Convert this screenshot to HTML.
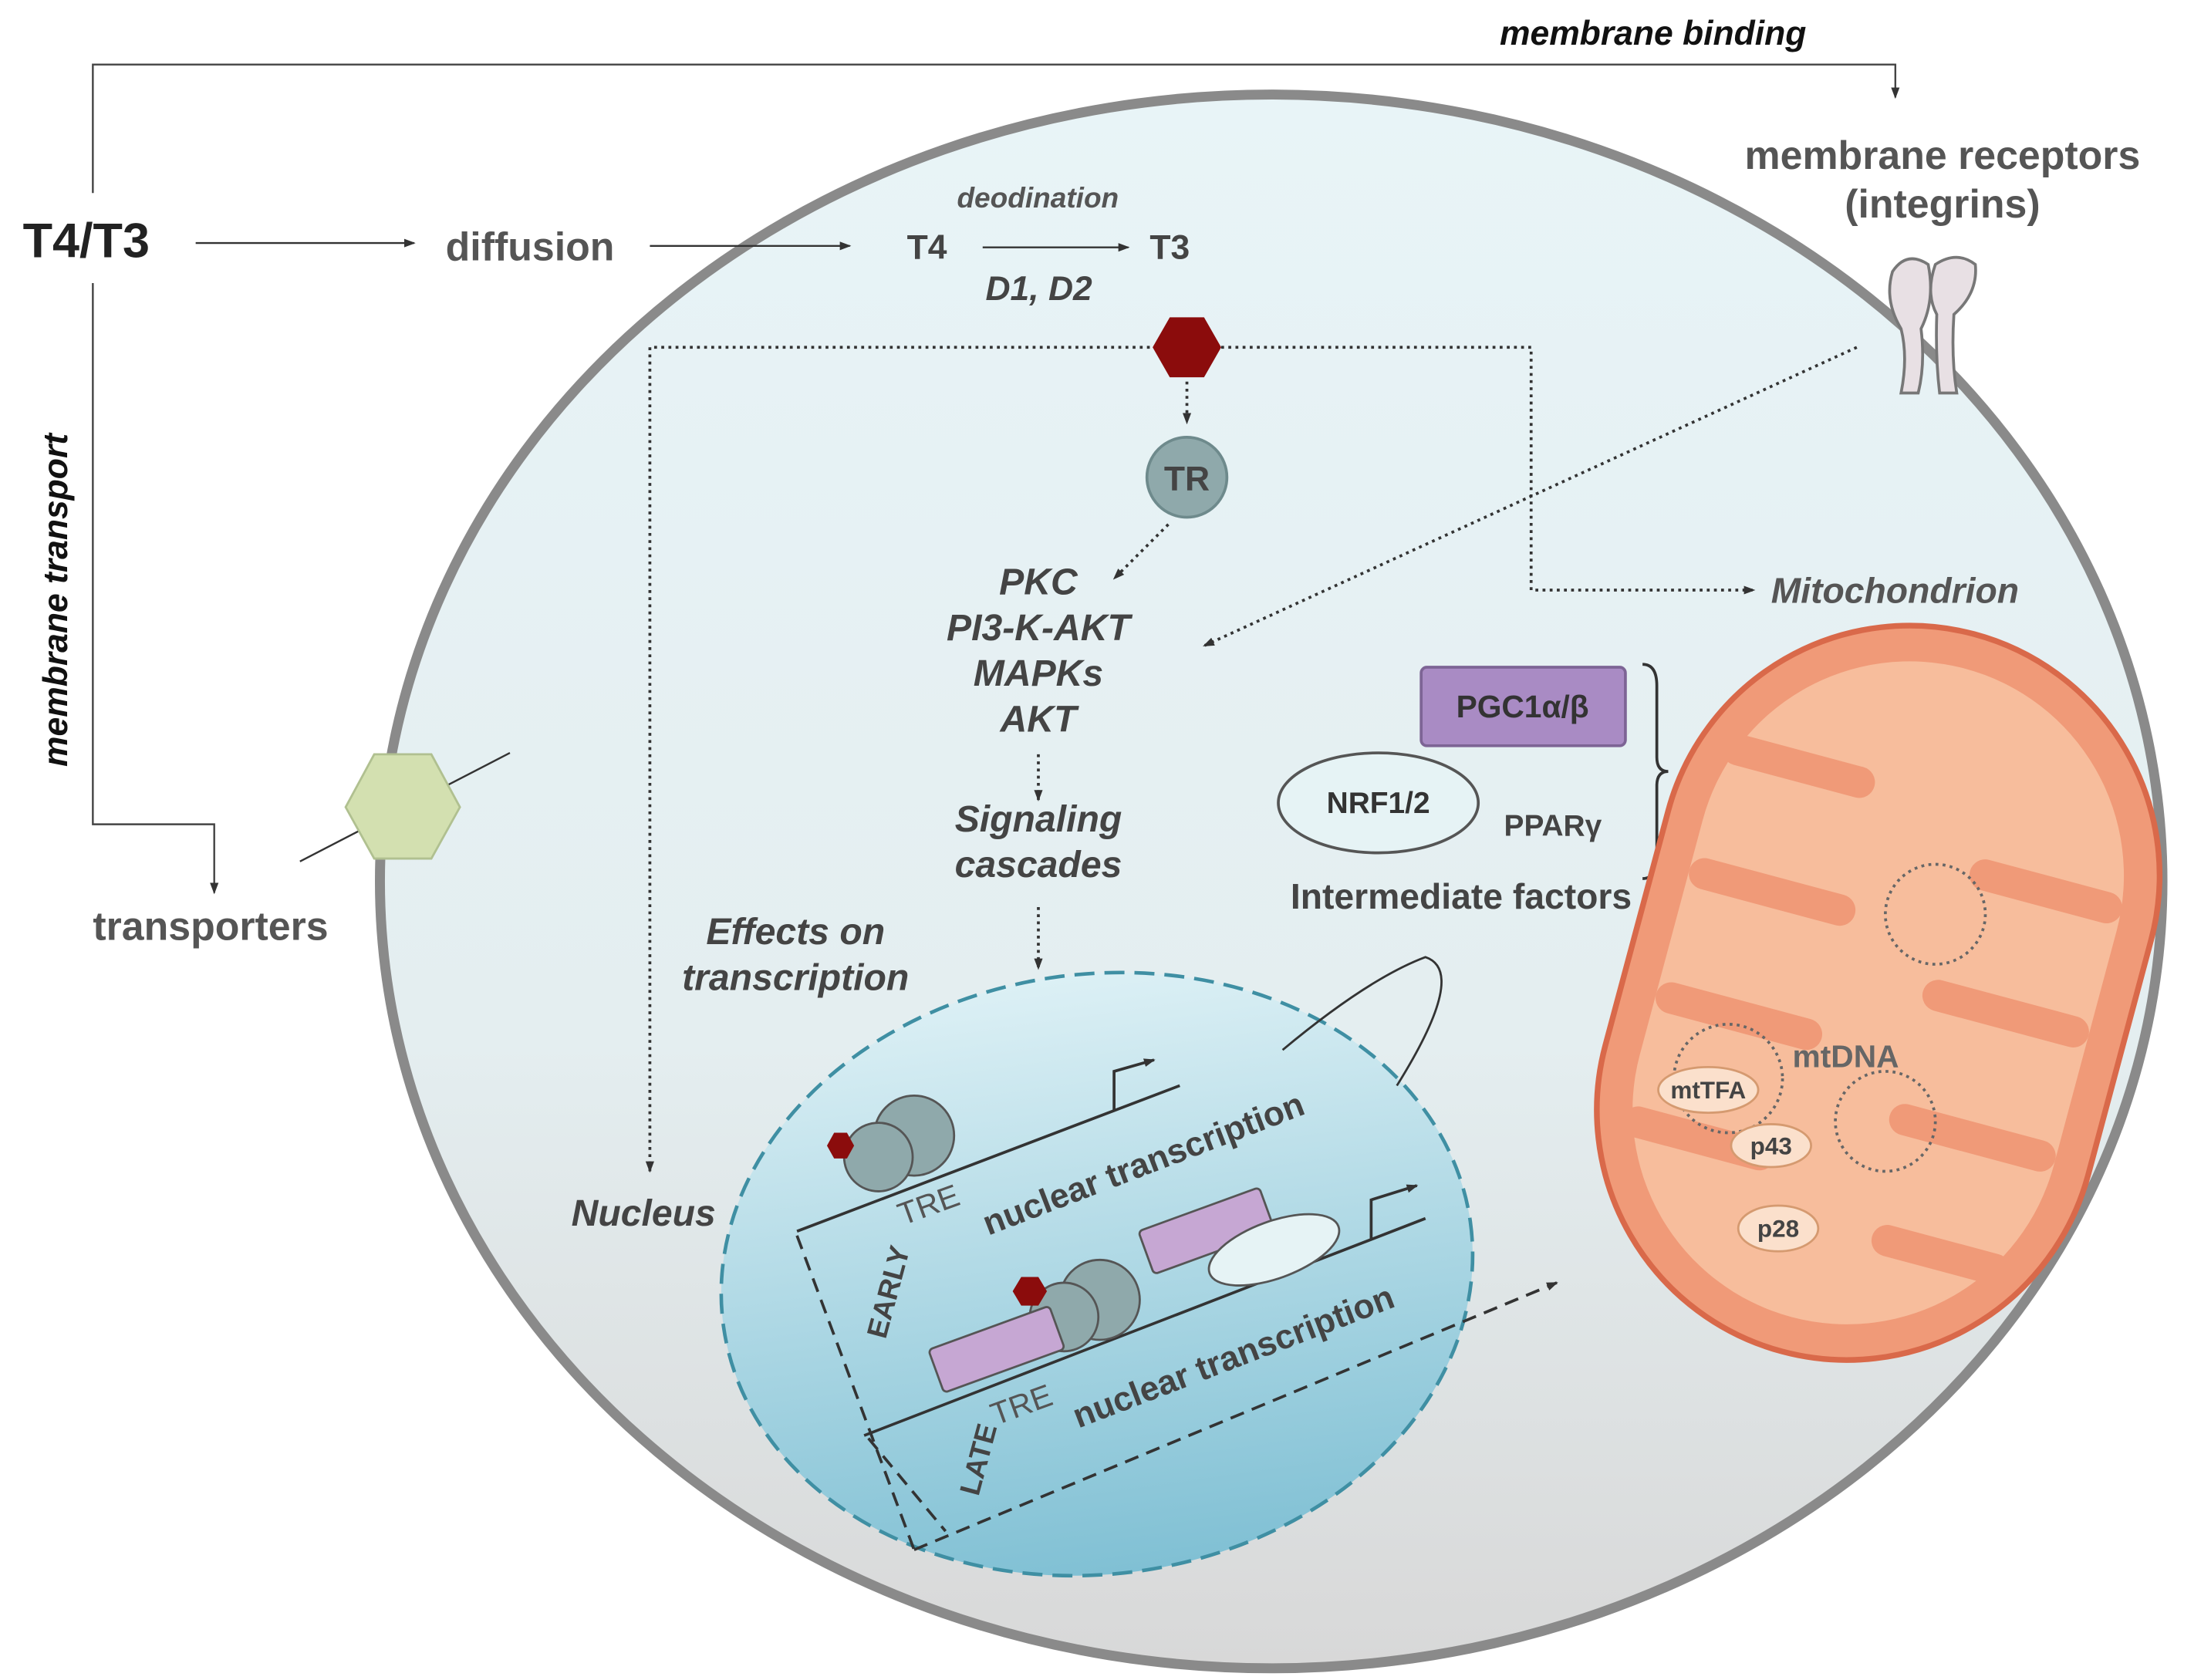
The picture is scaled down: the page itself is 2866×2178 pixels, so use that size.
<!DOCTYPE html>
<html><head><meta charset="utf-8"><style>
html,body{margin:0;padding:0;background:#fff;}
svg{display:block;}
text{font-family:"Liberation Sans",sans-serif;}
</style></head><body>
<svg width="2866" height="2178" viewBox="0 0 1548 1176" xmlns="http://www.w3.org/2000/svg">
<defs>
<linearGradient id="cell" x1="0" y1="0" x2="0" y2="1">
<stop offset="0" stop-color="#e8f4f7"/><stop offset="0.6" stop-color="#e4eef0"/><stop offset="1" stop-color="#d8d8d8"/></linearGradient>
<linearGradient id="nuc" x1="0" y1="0" x2="0" y2="1">
<stop offset="0" stop-color="#dcf0f5"/><stop offset="1" stop-color="#80c0d4"/></linearGradient>
<marker id="a" markerWidth="8" markerHeight="8" refX="7" refY="4" orient="auto" markerUnits="userSpaceOnUse"><path d="M0,1 L8,4 L0,7z" fill="#333"/></marker>
</defs>
<ellipse cx="890" cy="617" rx="624" ry="551" fill="url(#cell)" stroke="#8a8a8a" stroke-width="7"/>
<!-- membrane binding -->
<polyline points="65,135 65,45 1327,45 1327,68" fill="none" stroke="#444" stroke-width="1.3" marker-end="url(#a)"/>
<text x="1050" y="31" font-size="24" font-weight="bold" font-style="italic" fill="#111">membrane binding</text>
<text x="16" y="180" font-size="34" font-weight="bold" fill="#222">T4/T3</text>
<line x1="137" y1="170" x2="290" y2="170" stroke="#333" stroke-width="1.3" marker-end="url(#a)"/>
<text x="312" y="182" font-size="28" font-weight="bold" fill="#555">diffusion</text>
<line x1="455" y1="172" x2="595" y2="172" stroke="#333" stroke-width="1.3" marker-end="url(#a)"/>
<text x="635" y="181" font-size="24" font-weight="bold" fill="#444">T4</text>
<line x1="688" y1="173" x2="790" y2="173" stroke="#333" stroke-width="1.3" marker-end="url(#a)"/>
<text x="805" y="181" font-size="24" font-weight="bold" fill="#444">T3</text>
<text x="670" y="145" font-size="20" font-weight="bold" font-style="italic" fill="#555">deodination</text>
<text x="690" y="210" font-size="24" font-weight="bold" font-style="italic" fill="#444">D1, D2</text>
<polyline points="65,198 65,577 150,577 150,625" fill="none" stroke="#444" stroke-width="1.3" marker-end="url(#a)"/>
<text transform="translate(47,420) rotate(-90)" text-anchor="middle" font-size="24" font-weight="bold" font-style="italic" fill="#111">membrane transport</text>
<text x="65" y="658" font-size="28" font-weight="bold" fill="#555">transporters</text>
<line x1="210" y1="603" x2="357" y2="527" stroke="#333" stroke-width="1.3"/>
<polygon points="262,528 302,528 322,565 302,601 262,601 242,565" fill="#d3e0b0" stroke="#b0c090" stroke-width="1.5"/>
<!-- membrane receptors -->
<text x="1360" y="118" text-anchor="middle" font-size="28" font-weight="bold" fill="#555">membrane receptors</text>
<text x="1360" y="152" text-anchor="middle" font-size="28" font-weight="bold" fill="#555">(integrins)</text>
<path d="M1325,190 q10,-15 25,-5 q5,25 -5,45 q3,25 -2,45 l-12,0 q5,-25 0,-45 q-12,-20 -6,-40z" fill="#e8e0e4" stroke="#777" stroke-width="2"/>
<path d="M1355,185 q15,-10 28,0 q2,20 -15,35 q-2,30 2,55 l-12,0 q-3,-25 -2,-55 q-8,-15 -1,-35z" fill="#e8e0e4" stroke="#777" stroke-width="2"/>
<!-- dotted paths -->
<g fill="none" stroke="#333" stroke-width="2" stroke-dasharray="2,3">
<polyline points="810,243 455,243 455,820" marker-end="url(#a)"/>
<polyline points="855,243 1072,243 1072,413 1228,413" marker-end="url(#a)"/>
<line x1="831" y1="267" x2="831" y2="296" marker-end="url(#a)"/>
<line x1="818" y1="367" x2="780" y2="405" marker-end="url(#a)"/>
<line x1="727" y1="528" x2="727" y2="560" marker-end="url(#a)"/>
<line x1="727" y1="635" x2="727" y2="678" marker-end="url(#a)"/>
<line x1="1300" y1="243" x2="843" y2="452" marker-end="url(#a)"/>
</g>
<polygon points="819,222 843,222 855,243 843,264 819,264 807,243" fill="#8b0c0c"/>
<circle cx="831" cy="334" r="28" fill="#8fa9ab" stroke="#6e8a8c" stroke-width="2"/>
<text x="831" y="343" text-anchor="middle" font-size="24" font-weight="bold" fill="#444">TR</text>
<text x="1240" y="422" font-size="25" font-weight="bold" font-style="italic" fill="#555">Mitochondrion</text>
<g font-size="26" font-weight="bold" font-style="italic" fill="#444" text-anchor="middle">
<text x="727" y="416">PKC</text><text x="727" y="448">PI3-K-AKT</text><text x="727" y="480">MAPKs</text><text x="727" y="512">AKT</text>
<text x="727" y="582">Signaling</text><text x="727" y="614">cascades</text>
<text x="557" y="661">Effects on</text><text x="557" y="693">transcription</text>
</g>
<text x="400" y="858" font-size="26" font-weight="bold" font-style="italic" fill="#444">Nucleus</text>
<!-- intermediate factors -->
<rect x="995" y="467" width="143" height="55" rx="4" fill="#a98bc4" stroke="#7d6495" stroke-width="2"/>
<text x="1066" y="502" text-anchor="middle" font-size="22" font-weight="bold" fill="#333">PGC1α/β</text>
<ellipse cx="965" cy="562" rx="70" ry="35" fill="#e6f3f5" stroke="#555" stroke-width="2"/>
<text x="965" y="569" text-anchor="middle" font-size="21" font-weight="bold" fill="#333">NRF1/2</text>
<text x="1053" y="585" font-size="21" font-weight="bold" fill="#444">PPARγ</text>
<text x="1023" y="636" text-anchor="middle" font-size="25" font-weight="bold" fill="#444">Intermediate factors</text>
<path d="M1150,465 q10,0 10,15 l0,50 q0,10 8,10 q-8,0 -8,10 l0,50 q0,15 -10,15" fill="none" stroke="#333" stroke-width="2"/>
<line x1="1175" y1="545" x2="1215" y2="583" stroke="#333" stroke-width="1.3" marker-end="url(#a)"/>
<!-- mitochondrion -->
<g transform="translate(1315,695) rotate(15)">
<rect x="-175" y="-260" width="350" height="520" rx="175" fill="#f09a78" stroke="#d9694a" stroke-width="4"/>
<rect x="-150" y="-235" width="300" height="470" rx="150" fill="#f7bd9c"/>
<g fill="#f09a78">
<rect x="-150" y="-150" width="110" height="22" rx="11"/><rect x="40" y="-110" width="110" height="22" rx="11"/>
<rect x="-150" y="-60" width="120" height="22" rx="11"/><rect x="30" y="-20" width="120" height="22" rx="11"/>
<rect x="-150" y="30" width="120" height="22" rx="11"/><rect x="30" y="70" width="120" height="22" rx="11"/>
<rect x="-150" y="120" width="110" height="22" rx="11"/><rect x="40" y="155" width="100" height="22" rx="11"/>
</g>
</g>
<g fill="none" stroke="#666" stroke-width="2" stroke-dasharray="2,3">
<circle cx="1355" cy="640" r="35"/><circle cx="1210" cy="755" r="38"/><circle cx="1320" cy="785" r="35"/>
</g>
<text x="1255" y="747" font-size="22" font-weight="bold" fill="#666">mtDNA</text>
<g font-size="17" font-weight="bold" fill="#444" text-anchor="middle">
<ellipse cx="1196" cy="763" rx="35" ry="16" fill="#fbe0cc" stroke="#d59a70" stroke-width="1.5"/><text x="1196" y="769">mtTFA</text>
<ellipse cx="1240" cy="802" rx="28" ry="15" fill="#fbe0cc" stroke="#d59a70" stroke-width="1.5"/><text x="1240" y="808">p43</text>
<ellipse cx="1245" cy="860" rx="28" ry="16" fill="#fbe0cc" stroke="#d59a70" stroke-width="1.5"/><text x="1245" y="866">p28</text>
</g>
<!-- nucleus -->
<ellipse cx="768" cy="892" rx="264" ry="210" transform="rotate(-8 768 892)" fill="url(#nuc)" stroke="#3f8fa3" stroke-width="2.5" stroke-dasharray="14,7"/>
<path d="M898,735 q60,-50 100,-65 q30,10 -20,90" fill="none" stroke="#333" stroke-width="1.5"/>
<g stroke="#333" stroke-width="2" fill="none">
<line x1="558" y1="862" x2="826" y2="760"/>
<polyline points="780,778 780,750 808,742" marker-end="url(#a)"/>
<line x1="605" y1="1005" x2="998" y2="853"/>
<polyline points="960,868 960,840 992,830" marker-end="url(#a)"/>
<polyline points="558,865 640,1085" stroke-dasharray="10,6"/>
<line x1="640" y1="1085" x2="1090" y2="898" stroke-dasharray="10,6" marker-end="url(#a)"/>
<polyline points="608,1007 662,1072" stroke-dasharray="10,6"/>
</g>
<circle cx="640" cy="795" r="28" fill="#8fa9ab" stroke="#555" stroke-width="1.5"/>
<circle cx="615" cy="810" r="24" fill="#8fa9ab" stroke="#555" stroke-width="1.5"/>
<polygon points="584,793 593,793 598,802 593,811 584,811 579,802" fill="#8b0c0c"/>
<text transform="translate(632,858) rotate(-20)" font-size="22" fill="#555">TRE</text>
<text transform="translate(692,865) rotate(-21)" font-size="24" font-weight="bold" fill="#444">nuclear transcription</text>
<rect x="0" y="0" width="90" height="32" rx="3" transform="translate(797,862) rotate(-20)" fill="#c6a7d3" stroke="#555" stroke-width="1.5"/>
<ellipse cx="892" cy="875" rx="48" ry="20" transform="rotate(-20 892 875)" fill="#e6f3f5" stroke="#555" stroke-width="1.5"/>
<circle cx="770" cy="910" r="28" fill="#8fa9ab" stroke="#555" stroke-width="1.5"/>
<circle cx="745" cy="922" r="24" fill="#8fa9ab" stroke="#555" stroke-width="1.5"/>
<rect x="0" y="0" width="90" height="32" rx="3" transform="translate(650,945) rotate(-20)" fill="#c6a7d3" stroke="#555" stroke-width="1.5"/>
<polygon points="715,894 727,894 733,904 727,914 715,914 709,904" fill="#8b0c0c"/>
<text transform="translate(697,998) rotate(-20)" font-size="22" fill="#555">TRE</text>
<text transform="translate(755,1000) rotate(-21)" font-size="24" font-weight="bold" fill="#444">nuclear transcription</text>
<text transform="translate(620,938) rotate(-75)" font-size="20" font-weight="bold" fill="#444">EARLY</text>
<text transform="translate(685,1048) rotate(-75)" font-size="20" font-weight="bold" fill="#444">LATE</text>
</svg>
</body></html>
